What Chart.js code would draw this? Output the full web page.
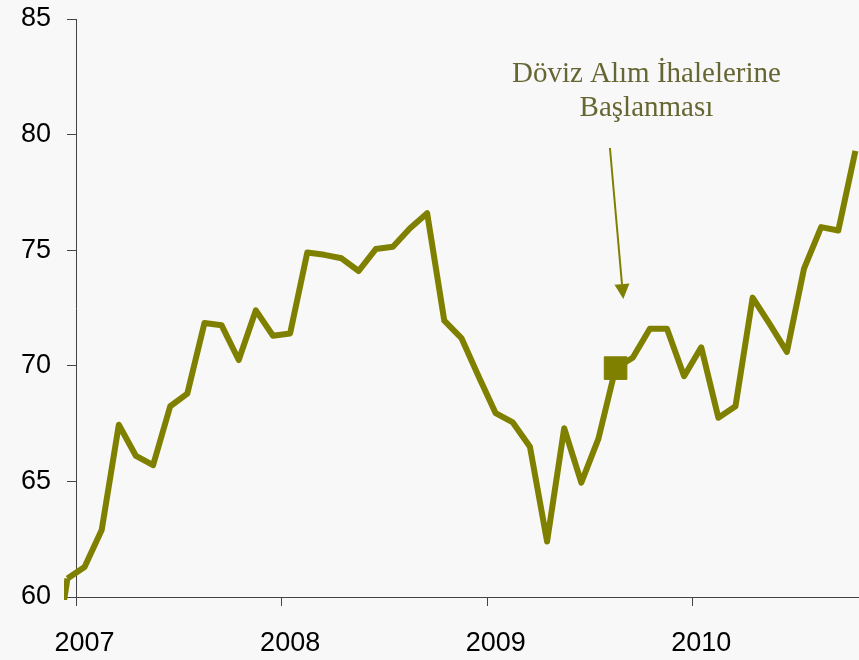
<!DOCTYPE html>
<html lang="tr">
<head>
  <meta charset="UTF-8">
  <title>Endeks 2007-2010</title>
  <script src="https://cdn.jsdelivr.net/npm/chart.js"></script>
  <style>
    html, body { margin: 0; padding: 0; background: #f8f8f8; }
    canvas { display: block; }
  </style>
</head>
<body>
  <canvas id="grafik" width="859" height="660"></canvas>
  <script>
    // aylar (ilk nokta grafik alanının dışında kalıyor, kırpılıyor)
    const aylar = [
      "2006-11", "2006-12",
      "2007-01", "2007-02", "2007-03", "2007-04", "2007-05", "2007-06",
      "2007-07", "2007-08", "2007-09", "2007-10", "2007-11", "2007-12",
      "2008-01", "2008-02", "2008-03", "2008-04", "2008-05", "2008-06",
      "2008-07", "2008-08", "2008-09", "2008-10", "2008-11", "2008-12",
      "2009-01", "2009-02", "2009-03", "2009-04", "2009-05", "2009-06",
      "2009-07", "2009-08", "2009-09", "2009-10", "2009-11", "2009-12",
      "2010-01", "2010-02", "2010-03", "2010-04", "2010-05", "2010-06",
      "2010-07", "2010-08", "2010-09", "2010-10"
    ];
    const degerler = [
      56.0, 60.8,
      61.3, 62.9, 67.45, 66.1, 65.7, 68.25, 68.8, 71.85, 71.75, 70.25, 72.4, 71.3,
      71.4, 74.9, 74.8, 74.65, 74.1, 75.05, 75.15, 75.95, 76.6, 71.95, 71.2, 69.55,
      67.95, 67.55, 66.5, 62.4, 67.3, 64.95, 66.85, 69.9, 70.35, 71.6, 71.6, 69.55,
      70.8, 67.75, 68.25, 72.95, 71.8, 70.6, 74.2, 76.0, 75.85, 79.3
    ];
    const yEksenEtiketleri = [60, 65, 70, 75, 80, 85];
    const isaretliAy = "2009-08";
    const notSatirlari = ["Döviz Alım İhalelerine", "Başlanması"];

    const renk = "#808000";
    const noktalar = degerler.map((v, i) => ({ x: i, y: v }));
    const isaretIndex = aylar.indexOf(isaretliAy);
    // yıl başı çizgileri aralık/ocak arasına düşüyor
    const yilTikleri = [];
    aylar.forEach((a, i) => { if (a.endsWith("-01")) yilTikleri.push(i - 0.5); });

    const notEklentisi = {
      id: "not",
      afterDatasetsDraw(chart) {
        const { ctx, scales: { x, y } } = chart;
        ctx.save();
        ctx.fillStyle = "#666633";
        ctx.font = "29px 'Liberation Serif', 'Times New Roman', serif";
        ctx.textAlign = "center";
        ctx.textBaseline = "alphabetic";
        const tx = x.getPixelForValue(34.8);
        ctx.fillText(notSatirlari[0], tx, y.getPixelForValue(82.27));
        ctx.fillText(notSatirlari[1], tx, y.getPixelForValue(80.8));

        // ok
        const x1 = x.getPixelForValue(32.67), y1 = y.getPixelForValue(79.42);
        const x2 = x.getPixelForValue(33.45), y2 = y.getPixelForValue(72.89);
        const aci = Math.atan2(y2 - y1, x2 - x1);
        const boy = 15, yari = 7.5;
        const bx = x2 - boy * Math.cos(aci), by = y2 - boy * Math.sin(aci);
        ctx.strokeStyle = renk;
        ctx.fillStyle = renk;
        ctx.lineWidth = 2;
        ctx.beginPath();
        ctx.moveTo(x1, y1);
        ctx.lineTo(bx, by);
        ctx.stroke();
        ctx.beginPath();
        ctx.moveTo(x2, y2);
        ctx.lineTo(bx + yari * Math.sin(aci), by - yari * Math.cos(aci));
        ctx.lineTo(bx - yari * Math.sin(aci), by + yari * Math.cos(aci));
        ctx.closePath();
        ctx.fill();
        ctx.restore();
      }
    };

    const cizgiStili = {
      borderColor: renk,
      backgroundColor: renk,
      borderWidth: 6,
      borderJoinStyle: "round",
      tension: 0,
      clip: { left: 12, right: 3, top: 3, bottom: 3 }
    };

    new Chart(document.getElementById("grafik"), {
      type: "line",
      data: {
        datasets: [{
          ...cizgiStili,
          data: noktalar,
          pointStyle: "rect",
          pointRadius: noktalar.map((p, i) => i === isaretIndex ? 16 : 0),
          pointBorderWidth: 1,
          pointBorderColor: renk,
          pointBackgroundColor: renk
        }, {
          // eksenin solunda kalan ilk parça (Chart.js min'den önceki ikinci noktayı çizmiyor)
          ...cizgiStili,
          data: noktalar.slice(0, 2),
          pointRadius: 0
        }]
      },
      options: {
        responsive: false,
        animation: false,
        events: [],
        layout: { padding: { top: 19, right: 0, left: 0, bottom: 0 } },
        plugins: { legend: { display: false }, tooltip: { enabled: false } },
        scales: {
          x: {
            type: "linear",
            min: 1.5,
            max: 47.21,
            afterBuildTicks: s => { s.ticks = yilTikleri.map(v => ({ value: v })); },
            afterFit: s => { s.height = 63; s.paddingLeft = 0; s.paddingRight = 0; },
            grid: { drawOnChartArea: false, drawTicks: true, tickLength: 9, color: "#444", lineWidth: 1 },
            border: { color: "#444", width: 1 },
            ticks: {
              color: "#000",
              font: { family: "'Liberation Sans', Arial, sans-serif", size: 27 },
              padding: 21,
              labelOffset: 8.6,
              maxRotation: 0,
              autoSkip: false,
              callback: v => aylar[Math.round(v + 0.5)].slice(0, 4)
            }
          },
          y: {
            min: yEksenEtiketleri[0],
            max: yEksenEtiketleri[yEksenEtiketleri.length - 1],
            afterBuildTicks: s => { s.ticks = yEksenEtiketleri.map(v => ({ value: v })); },
            afterFit: s => { s.width = 76; s.paddingTop = 0; s.paddingBottom = 0; },
            grid: { drawOnChartArea: false, drawTicks: true, tickLength: 9, color: "#444", lineWidth: 1 },
            border: { color: "#444", width: 1 },
            ticks: {
              color: "#000",
              font: { family: "'Liberation Sans', Arial, sans-serif", size: 27 },
              padding: 16
            }
          }
        }
      },
      plugins: [notEklentisi]
    });
  </script>
</body>
</html>
